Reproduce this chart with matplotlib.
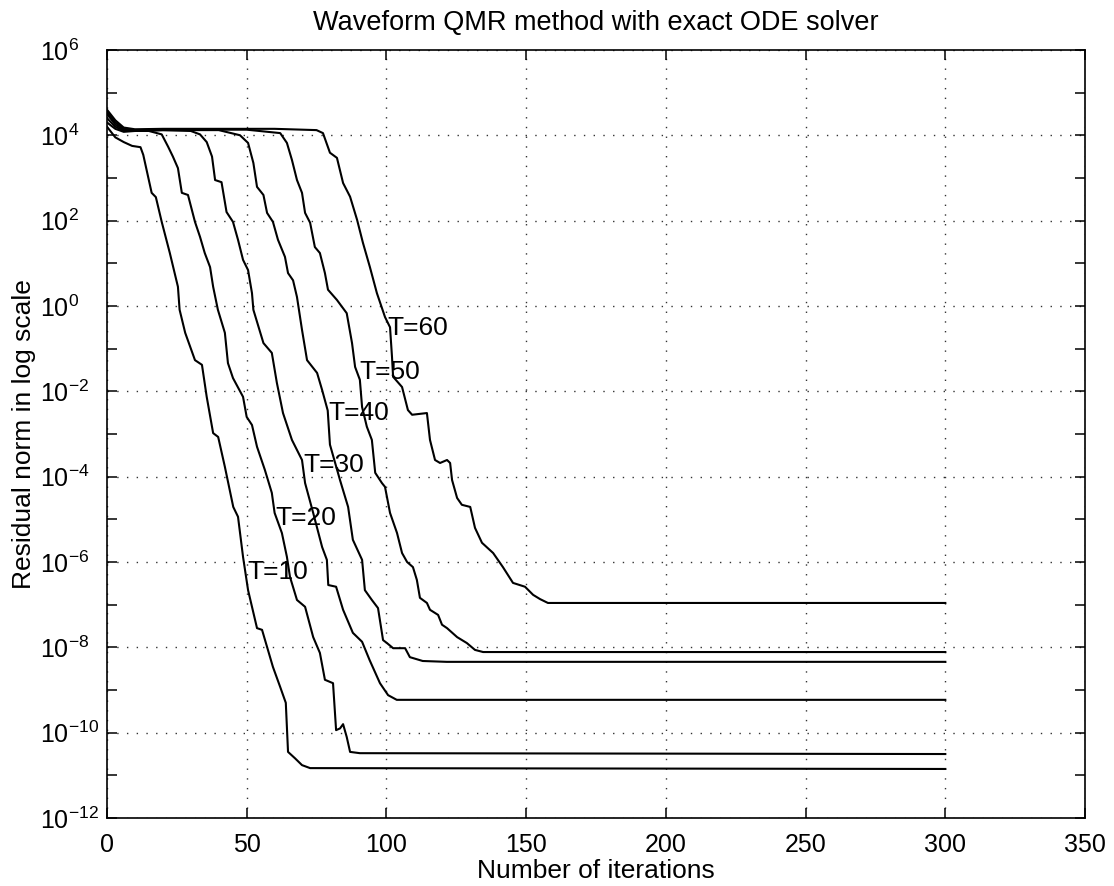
import numpy as np
import matplotlib
matplotlib.use("Agg")
import matplotlib.pyplot as plt
from matplotlib.ticker import FixedLocator, NullFormatter

plt.rcParams['font.family'] = ['Liberation Sans', 'DejaVu Sans']
plt.rcParams['mathtext.default'] = 'regular'

# ---- data (iteration, log10 residual norm) ----
it_T10 = [0, 3, 6, 9, 12, 13, 16, 17.5, 19.6, 22.5, 25.4, 26, 28, 31.5, 34, 35.7, 38, 39.8, 42.2, 45.2, 46.9, 48.7,
          50.5, 53.7, 55.5, 59.4, 62, 64, 64.8, 67.3, 69.8, 72.7, 300]
lg_T10 = [4.2, 3.95, 3.84, 3.75, 3.72, 3.54, 2.65, 2.55, 1.97, 1.24, 0.45, -0.09, -0.63, -1.27, -1.38, -2.13, -2.98,
          -3.07, -3.77, -4.71, -4.94, -5.88, -6.66, -7.55, -7.59, -8.46, -8.93, -9.3, -10.45, -10.6, -10.76, -10.83, -10.85]

it_T20 = [0, 3, 6, 10, 15, 19.6, 21.9, 23.6, 25.4, 26.8, 29, 31.5, 33.3, 35, 36.9, 38, 39.7, 42.2, 43.3, 45.1, 48.7,
          50, 51.9, 53.7, 56.5, 59, 60, 62.6, 64.4, 65.5, 68, 70.9, 73.8, 76.2, 78, 80.9, 82, 83.4, 84.5, 85.8, 87,
          90.5, 300]
lg_T20 = [4.3, 4.15, 4.08, 4.1, 4.1, 4.02, 3.73, 3.5, 3.23, 2.65, 2.6, 1.97, 1.62, 1.24, 0.91, 0.45, -0.09, -0.63,
          -1.34, -1.69, -2.13, -2.6, -2.79, -3.3, -3.84, -4.38, -4.85, -5.32, -5.88, -6.35, -6.89, -7.05, -7.76, -8.13,
          -8.76, -8.84, -9.94, -9.9, -9.8, -10.1, -10.45, -10.48, -10.5]

it_T30 = [0, 3, 6, 10, 20, 30, 33.3, 35.7, 37.6, 38.7, 41, 42.8, 45.1, 46.9, 48.7, 50.5, 51.9, 52.4, 56, 59, 60.8,
          63, 66.2, 69.8, 70.9, 73.8, 77, 78.7, 79.2, 82, 84.5, 88, 91.3, 94, 97.7, 100.6, 103.7, 300]
lg_T30 = [4.4, 4.2, 4.1, 4.1, 4.12, 4.1, 4.02, 3.84, 3.5, 2.95, 2.9, 2.2, 1.97, 1.55, 1.08, 0.84, 0.3, -0.09, -0.87,
          -1.1, -1.8, -2.51, -3.14, -3.61, -4.15, -4.85, -5.65, -5.95, -6.54, -6.58, -7.12, -7.66, -7.87, -8.3, -8.84,
          -9.12, -9.23, -9.23]

it_T40 = [0, 3, 6, 10, 20, 40, 47.6, 50.5, 52.4, 53.7, 56, 57.3, 59.4, 61.2, 63.7, 64.8, 66.6, 68, 69.8, 71.6, 75.2,
          77, 79, 79.8, 83.4, 86.3, 88, 91.3, 92.3, 94.8, 97, 98.8, 100.2, 102.4, 106.7, 108.4, 113, 121.6, 300]
lg_T40 = [4.5, 4.25, 4.12, 4.1, 4.12, 4.12, 4.0, 3.82, 3.35, 2.79, 2.6, 2.18, 1.97, 1.55, 1.15, 0.77, 0.6, 0.21, -0.56,
          -1.27, -1.57, -1.97, -2.45, -3.25, -4.08, -4.71, -5.48, -5.95, -6.66, -6.89, -7.08, -7.83, -7.9, -8.02, -8.02,
          -8.23, -8.32, -8.34, -8.34]

it_T50 = [0, 3, 6, 10, 20, 50, 62, 64.4, 66.2, 68, 69.8, 70.9, 72.7, 74.4, 76.2, 78, 79.1, 82.3, 85.8, 87.7, 88.8,
          90.5, 91.3, 93, 94.8, 96, 98.4, 99.5, 101.3, 103.8, 105.6, 107.4, 109.5, 110.9, 112, 114.5, 115.6, 118.5,
          119.9, 121.7, 125.3, 128.8, 131.7, 134.6, 300]
lg_T50 = [4.55, 4.3, 4.15, 4.12, 4.13, 4.13, 4.05, 3.82, 3.42, 2.95, 2.65, 2.18, 1.95, 1.38, 1.24, 0.77, 0.38, 0.14,
          -0.17, -0.87, -1.43, -1.73, -2.37, -2.83, -3.14, -3.91, -4.15, -4.24, -4.85, -5.32, -5.79, -6.0, -6.12,
          -6.42, -6.84, -6.96, -7.12, -7.24, -7.47, -7.55, -7.76, -7.9, -8.06, -8.11, -8.11]

it_T60 = [0, 3, 6, 10, 20, 60, 75, 77.3, 79.8, 82.3, 84.5, 87, 89.5, 91.6, 94.1, 96.6, 99.5, 101.3, 102, 102.4,
          105.6, 107.7, 109.2, 114.5, 115.6, 117.4, 119.2, 121.7, 122.8, 123.5, 125.3, 127, 130, 131.7, 134.2, 138.2,
          141.7, 145.3, 149.6, 152.5, 155, 157.8, 300]
lg_T60 = [4.6, 4.35, 4.18, 4.14, 4.15, 4.15, 4.12, 4.05, 3.59, 3.47, 2.88, 2.56, 2.02, 1.48, 0.91, 0.3, -0.26, -0.5,
          -1.19, -1.66, -1.9, -2.44, -2.55, -2.51, -3.14, -3.61, -3.68, -3.61, -3.68, -4.08, -4.5, -4.66, -4.71, -5.2,
          -5.55, -5.79, -6.12, -6.49, -6.58, -6.77, -6.87, -6.96, -6.96]

labels = ["T=10", "T=20", "T=30", "T=40", "T=50", "T=60"]
label_it = [50.1, 60.1, 70.2, 79.1, 90.5, 100.2]
label_lg = [-6.23, -4.97, -3.73, -2.51, -1.55, -0.52]

series = [(it_T10, lg_T10), (it_T20, lg_T20), (it_T30, lg_T30),
          (it_T40, lg_T40), (it_T50, lg_T50), (it_T60, lg_T60)]

xticks = [0, 50, 100, 150, 200, 250, 300, 350]

# ---- figure ----
fig = plt.figure(figsize=(11.14, 8.86), dpi=100)
ax = fig.add_axes([0.096, 0.0767, 0.878, 0.867])

for its, lgs in series:
    ax.plot(its, 10.0 ** np.array(lgs), color='black', lw=1.5)

for lab, xi, yi in zip(labels, label_it, label_lg):
    ax.text(xi, 10.0 ** yi, lab, ha='left', va='center', fontsize=19)

ax.set_yscale('log')
ax.set_xlim(0, 350)
ax.set_ylim(1e-12, 1e6)
ax.set_xticks(xticks)
ax.yaxis.set_major_locator(FixedLocator([10.0 ** k for k in range(-12, 7, 2)]))
ax.yaxis.set_minor_locator(FixedLocator([10.0 ** k for k in range(-11, 6, 2)]))
ax.yaxis.set_minor_formatter(NullFormatter())

ax.grid(True, which='major', color='black', linestyle=(0, (1, 6)), lw=1.0, alpha=0.8)
ax.tick_params(which='both', direction='in', top=True, right=True, length=7, width=1.1, labelsize=18)
ax.tick_params(axis='x', pad=11)
ax.tick_params(axis='y', pad=48)
for lbl in ax.get_yticklabels():
    lbl.set_horizontalalignment('left')
for s in ax.spines.values():
    s.set_linewidth(1.2)

ax.set_xlabel("Number of iterations", fontsize=19, labelpad=1)
ax.set_ylabel("Residual norm in log scale", fontsize=19, labelpad=3)
ax.set_title("Waveform QMR method with exact ODE solver", fontsize=19.5, pad=14)

fig.savefig("out.png", dpi=100)
